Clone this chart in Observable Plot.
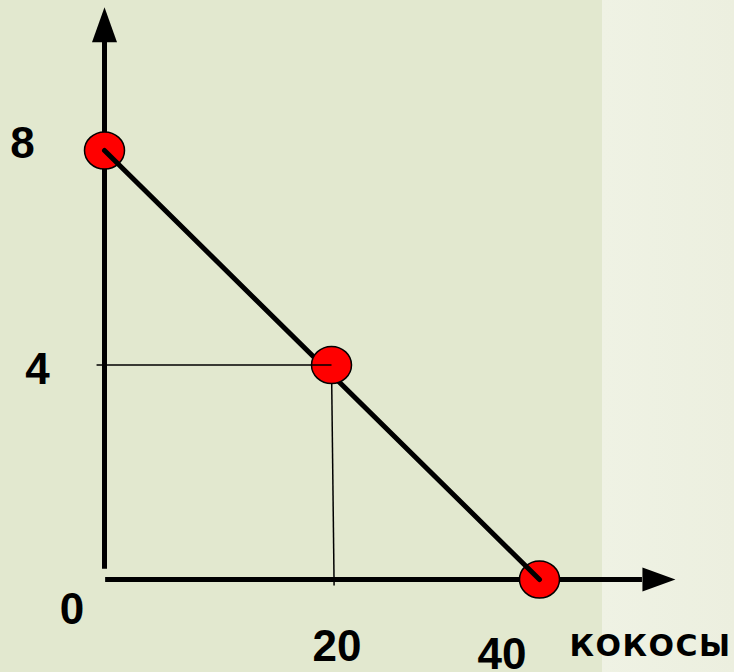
<!DOCTYPE html>
<html>
<head>
<meta charset="utf-8">
<script src="https://cdn.jsdelivr.net/npm/d3@7"></script>
<script src="https://cdn.jsdelivr.net/npm/@observablehq/plot@0.6"></script>
<style>
  html, body { margin: 0; padding: 0; }
  body { width: 734px; height: 672px; overflow: hidden; }
</style>
</head>
<body>
<div id="chart"></div>
<script>
// ---- data ----
const kokosy = [0, 20, 40];          // x values of the three points
const bananas = [8, 4, 0];           // y values of the three points
const yTickValues = [8, 4, 0];
const yTickLabels = ["8", "4", "0"];
const xTickValues = [20, 40];
const xTickLabels = ["20", "40"];
const xAxisLabel = "КОКОСЫ";

const points = kokosy.map((x, i) => ({x, y: bananas[i]}));
const endPoints = [points[0], points[2]];
const midPoint = [points[1]];

// ---- custom symbols ----
function ellipseSymbol(rx, ry) {
  const k = 0.5523;
  return {
    draw(ctx) {
      ctx.moveTo(rx, 0);
      ctx.bezierCurveTo(rx, k * ry, k * rx, ry, 0, ry);
      ctx.bezierCurveTo(-k * rx, ry, -rx, k * ry, -rx, 0);
      ctx.bezierCurveTo(-rx, -k * ry, -k * rx, -ry, 0, -ry);
      ctx.bezierCurveTo(k * rx, -ry, rx, -k * ry, rx, 0);
      ctx.closePath();
    }
  };
}
const arrowUp = {
  draw(ctx) {
    ctx.moveTo(-12.5, 0);
    ctx.lineTo(12.5, 0);
    ctx.lineTo(0, -35);
    ctx.closePath();
  }
};
const arrowRight = {
  draw(ctx) {
    ctx.moveTo(0, -12);
    ctx.lineTo(0, 12);
    ctx.lineTo(33, 0);
    ctx.closePath();
  }
};
const dotSymbol = ellipseSymbol(20, 18.5);

// ---- layout offsets for tick labels (pixels) ----
const yLabelOffsets = [[-82, 7], [-67, 18.5], [-32.5, 44]];
const xLabelOffsets = [[5.5, 81], [-37.5, 89]];

const font = "Liberation Sans, Arial, sans-serif";

const marks = [
  // axes
  Plot.ruleX([0], {y1: 0.19, y2: 10.02, stroke: "black", strokeWidth: 5}),
  Plot.ruleY([0], {x1: 0.1, x2: 49.9, stroke: "black", strokeWidth: 5}),
  Plot.dot([{x: 0, y: 10.02}], {x: "x", y: "y", symbol: arrowUp, fill: "black", stroke: "none", r: 1}),
  Plot.dot([{x: 49.9, y: 0}], {x: "x", y: "y", symbol: arrowRight, fill: "black", stroke: "none", r: 1}),
  // vertical guide from the middle point down to the axis
  Plot.link(midPoint, {x1: "x", y1: "y", x2: d => d.x + 0.25, y2: -0.11, stroke: "black", strokeWidth: 1.5}),
  // end points
  Plot.dot(endPoints, {x: "x", y: "y", symbol: dotSymbol, r: 1, fill: "#ff0000", stroke: "black", strokeWidth: 1.5}),
  // production possibilities line
  Plot.line(endPoints, {x: "x", y: "y", stroke: "black", strokeWidth: 5}),
  // middle point
  Plot.dot(midPoint, {x: "x", y: "y", symbol: dotSymbol, r: 1, fill: "#ff0000", stroke: "black", strokeWidth: 1.5}),
  // horizontal guide
  Plot.link(midPoint, {x1: -0.7, y1: "y", x2: "x", y2: "y", stroke: "black", strokeWidth: 1.5}),
];

yTickValues.forEach((v, i) => {
  marks.push(Plot.text([yTickLabels[i]], {
    x: () => 0, y: () => v, text: d => d,
    dx: yLabelOffsets[i][0], dy: yLabelOffsets[i][1],
    fontSize: 44, fontWeight: "bold", fontFamily: font, fill: "black",
    textAnchor: "middle", lineAnchor: "bottom"
  }));
});
xTickValues.forEach((v, i) => {
  marks.push(Plot.text([xTickLabels[i]], {
    x: () => v, y: () => 0, text: d => d,
    dx: xLabelOffsets[i][0], dy: xLabelOffsets[i][1],
    fontSize: 44, fontWeight: "bold", fontFamily: font, fill: "black",
    textAnchor: "middle", lineAnchor: "bottom"
  }));
});
marks.push(Plot.text([xAxisLabel], {
  x: () => 40, y: () => 0, text: d => d,
  dx: 111, dy: 76,
  fontSize: 30, fontWeight: "bold", fontFamily: "DejaVu Sans, sans-serif", fill: "black",
  textAnchor: "middle", lineAnchor: "bottom"
}));

const svg = Plot.plot({
  width: 734,
  height: 672,
  margin: 0,
  x: {type: "linear", domain: [0, 20, 40], range: [104, 331, 539], axis: null},
  y: {type: "linear", domain: [0, 8], range: [579, 150], axis: null},
  style: {
    background: "linear-gradient(90deg, #e2e8cf 0px, #e2e8cf 602px, #eff2e4 602px, #ecefdf 734px)",
    overflow: "visible"
  },
  marks
});

d3.select(svg).selectAll("text")
  .filter(function () { return this.textContent === xAxisLabel; })
  .attr("letter-spacing", 1.5);

document.getElementById("chart").appendChild(svg);
</script>
</body>
</html>
